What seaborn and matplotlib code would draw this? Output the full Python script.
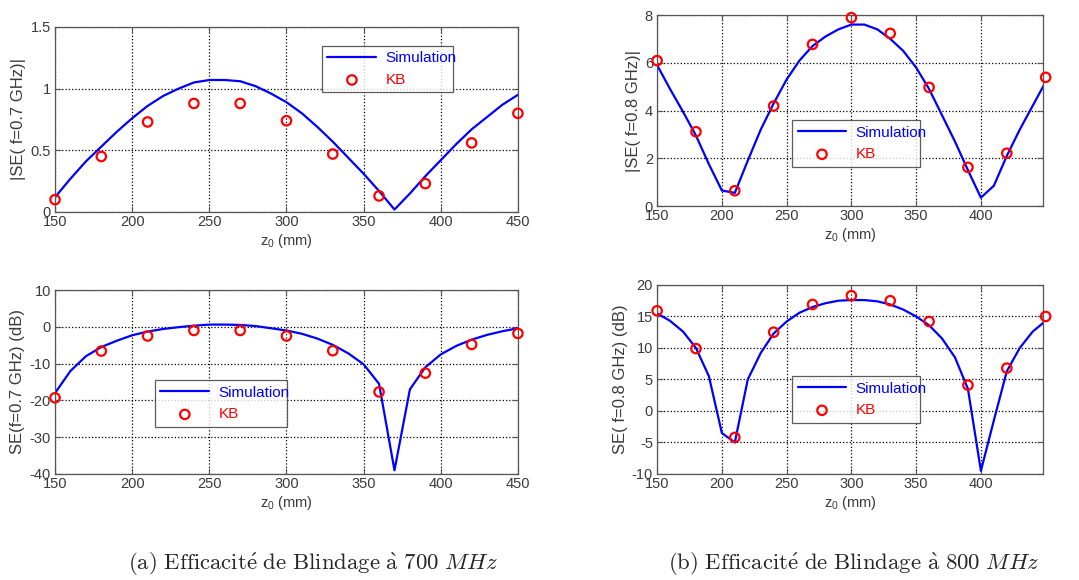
import numpy as np
import pandas as pd
import matplotlib
matplotlib.use("Agg")
import matplotlib.pyplot as plt
import seaborn as sns
from matplotlib.ticker import FormatStrFormatter

# positions z0 (mm)
z_sim = [150, 160, 170, 180, 190, 200, 210, 220, 230, 240, 250, 260, 270, 280, 290, 300,
         310, 320, 330, 340, 350, 360, 370, 380, 390, 400, 410, 420, 430, 440, 450]
z_kb = [150, 180, 210, 240, 270, 300, 330, 360, 390, 420, 450]

# 700 MHz, linear |SE|
sim_700_lin = [0.12, 0.27, 0.41, 0.53, 0.65, 0.76, 0.86, 0.94, 1.00, 1.05, 1.07, 1.07, 1.06,
               1.02, 0.96, 0.89, 0.80, 0.69, 0.57, 0.44, 0.31, 0.17, 0.02, 0.15, 0.29, 0.42,
               0.55, 0.67, 0.77, 0.87, 0.95]
kb_700_lin = [0.10, 0.45, 0.73, 0.88, 0.88, 0.74, 0.47, 0.13, 0.23, 0.56, 0.80]

# 700 MHz, dB
sim_700_db = [-18.0, -12.0, -8.0, -5.5, -3.8, -2.3, -1.3, -0.6, -0.1, 0.3, 0.6, 0.6, 0.5,
              0.2, -0.4, -1.0, -1.9, -3.2, -4.9, -7.2, -10.2, -15.5, -39.0, -17.0, -11.0,
              -7.5, -5.2, -3.5, -2.2, -1.2, -0.4]
kb_700_db = [-19.3, -6.6, -2.5, -1.0, -1.0, -2.5, -6.5, -17.7, -12.6, -4.8, -1.8]

# 800 MHz, linear |SE|
sim_800_lin = [5.9, 4.9, 3.95, 2.95, 1.75, 0.65, 0.55, 1.9, 3.2, 4.3, 5.3, 6.1, 6.7, 7.1,
               7.4, 7.6, 7.6, 7.4, 7.0, 6.5, 5.8, 4.9, 3.8, 2.7, 1.5, 0.35, 0.85, 2.1, 3.2,
               4.2, 5.2]
kb_800_lin = [6.09, 3.11, 0.64, 4.19, 6.77, 7.89, 7.23, 4.97, 1.62, 2.21, 5.39]

# 800 MHz, dB
sim_800_db = [15.5, 14.3, 12.6, 10.0, 5.5, -3.5, -5.0, 5.0, 9.2, 12.3, 14.2, 15.6, 16.5,
              17.1, 17.5, 17.6, 17.6, 17.4, 16.9, 16.1, 15.0, 13.6, 11.5, 8.5, 3.5, -9.5,
              -1.5, 6.3, 10.0, 12.6, 14.3]
kb_800_db = [15.9, 9.9, -4.2, 12.5, 16.9, 18.3, 17.5, 14.2, 4.1, 6.8, 15.0]

xt_700 = [150, 200, 250, 300, 350, 400, 450]
xt_800 = [150, 200, 250, 300, 350, 400]

sns.set_style("white")
plt.rcParams['font.family'] = ['Liberation Sans', 'DejaVu Sans']
plt.rcParams['mathtext.fontset'] = 'custom'
plt.rcParams['mathtext.rm'] = 'Liberation Sans'
plt.rcParams['mathtext.it'] = 'Liberation Sans:italic'
plt.rcParams['axes.unicode_minus'] = False

TXT = '#3a3a3a'
panels = [
    # rect, sim, kb, ylabel, ylim, yticks, xlim, xticks, legend bbox (x0, y0, w, h)
    ([0.051, 0.6345, 0.429, 0.319], sim_700_lin, kb_700_lin, '|SE( f=0.7 GHz)|',
     (0, 1.5), [0, 0.5, 1, 1.5], (150, 450), xt_700, [0.577, 0.654, 0.283, 0.236]),
    ([0.609, 0.6448, 0.3577, 0.3293], sim_800_lin, kb_800_lin, '|SE( f=0.8 GHz)|',
     (0, 8), [0, 2, 4, 6, 8], (150, 448), xt_800, [0.35, 0.21, 0.33, 0.235]),
    ([0.051, 0.1828, 0.429, 0.3172], sim_700_db, kb_700_db, 'SE(f=0.7 GHz) (dB)',
     (-40, 10), [-40, -30, -20, -10, 0, 10], (150, 450), xt_700, [0.216, 0.26, 0.285, 0.245]),
    ([0.609, 0.1828, 0.3577, 0.3259], sim_800_db, kb_800_db, 'SE( f=0.8 GHz) (dB)',
     (-10, 20), [-10, -5, 0, 5, 10, 15, 20], (150, 448), xt_800, [0.35, 0.275, 0.33, 0.238]),
]

fig = plt.figure(figsize=(10.79, 5.80), dpi=100)

for rect, sim, kb, ylab, ylim, yticks, xlim, xticks, bbox in panels:
    ax = fig.add_axes(rect)
    df_sim = pd.DataFrame({'z': z_sim, 'se': sim})
    df_kb = pd.DataFrame({'z': z_kb, 'se': kb})
    sns.lineplot(data=df_sim, x='z', y='se', ax=ax, color='#0000ff', linewidth=1.6,
                 label='Simulation')
    sns.scatterplot(data=df_kb, x='z', y='se', ax=ax, marker='o', s=46,
                    facecolor='none', edgecolor='#ff0000', linewidth=1.6, label='KB',
                    clip_on=False, zorder=3)
    ax.set_xticks(xticks)
    ax.set_yticks(yticks)
    ax.set_xlim(*xlim)
    ax.set_ylim(*ylim)
    ax.yaxis.set_major_formatter(FormatStrFormatter('%g'))
    ax.grid(True, color='black', linestyle=':', linewidth=0.9)
    for s in ax.spines.values():
        s.set_color('#555555')
        s.set_linewidth(0.9)
    ax.tick_params(direction='in', length=4, width=0.8, color='#555555',
                   labelsize=10.5, labelcolor=TXT, pad=3, top=True, right=True,
                   bottom=True, left=True)
    ax.tick_params(axis='x', pad=2)
    ax.set_xlabel('z$_0$ (mm)', fontsize=10.5, color=TXT, labelpad=2)
    ax.set_ylabel(ylab, fontsize=12, color=TXT, labelpad=3)
    leg = ax.legend(loc='center', bbox_to_anchor=bbox, mode='expand', fontsize=11,
                    frameon=True, fancybox=False, handlelength=3.2, borderaxespad=0,
                    borderpad=0.35, labelspacing=0.5, handletextpad=0.6)
    leg.get_frame().set_edgecolor('#333333')
    leg.get_frame().set_linewidth(0.9)
    leg.get_texts()[0].set_color('#0000ff')
    leg.get_texts()[1].set_color('#ff0000')

fig.text(0.29, 0.026,
         r'$\mathrm{(a)\ Efficacit\acute{e}\ de\ Blindage\ \grave{a}\ 700\ }MHz$',
         ha='center', va='center', fontsize=16.4, math_fontfamily='cm')
fig.text(0.791, 0.026,
         r'$\mathrm{(b)\ Efficacit\acute{e}\ de\ Blindage\ \grave{a}\ 800\ }MHz$',
         ha='center', va='center', fontsize=16.4, math_fontfamily='cm')

fig.savefig('out.png', dpi=100)
